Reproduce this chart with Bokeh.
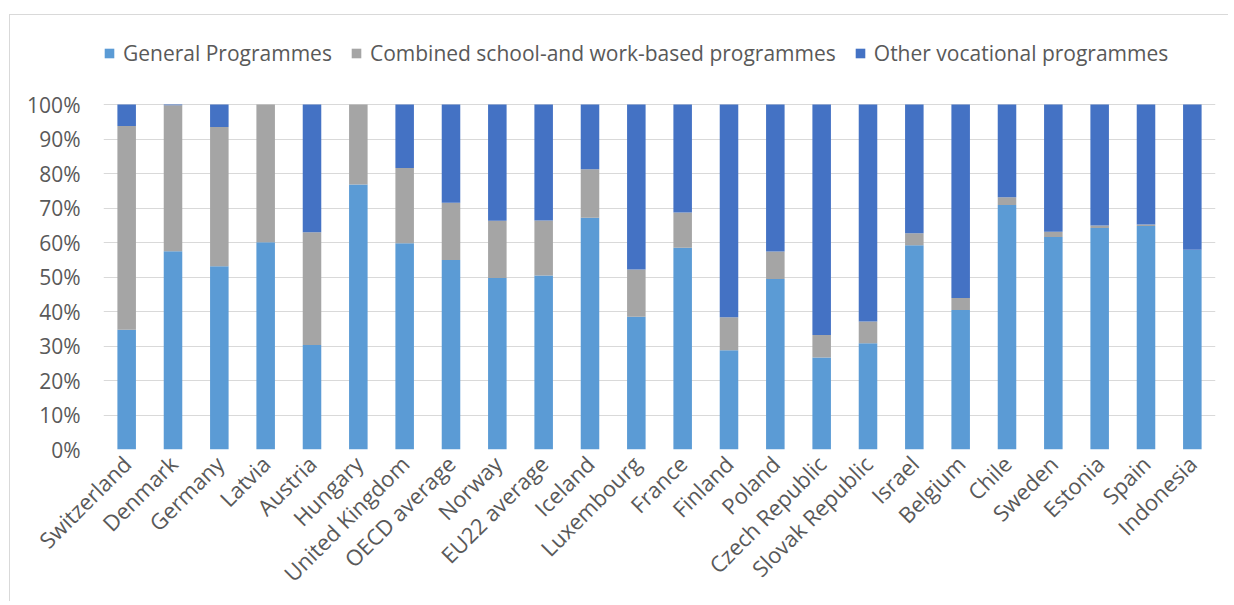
import math
from bokeh.plotting import figure
from bokeh.models import (ColumnDataSource, FactorRange, Range1d, FixedTicker,
                          PrintfTickFormatter, Legend, LegendItem)
from bokeh.embed import file_html
from bokeh.resources import INLINE

countries = ["Switzerland", "Denmark", "Germany", "Latvia", "Austria", "Hungary",
             "United Kingdom", "OECD average", "Norway", "EU22 average", "Iceland",
             "Luxembourg", "France", "Finland", "Poland", "Czech Republic",
             "Slovak Republic", "Israel", "Belgium", "Chile", "Sweden", "Estonia",
             "Spain", "Indonesia"]
general = [34.7, 57.5, 53.1, 60.1, 30.3, 76.8, 59.8, 54.9, 49.7, 50.4, 67.2, 38.5,
           58.5, 28.8, 49.4, 26.7, 30.8, 59.2, 40.4, 70.9, 61.6, 64.2, 64.8, 57.9]
combined = [59.1, 42.3, 40.4, 39.9, 32.7, 23.2, 21.8, 16.6, 16.6, 16.0, 14.0, 13.7,
            10.2, 9.5, 8.0, 6.5, 6.3, 3.5, 3.5, 2.2, 1.5, 0.7, 0.4, 0.0]
other = [6.2, 0.2, 6.5, 0.0, 37.0, 0.0, 18.4, 28.5, 33.7, 33.6, 18.8, 47.8,
         31.3, 61.7, 42.6, 66.8, 62.9, 37.3, 56.1, 26.9, 36.9, 35.1, 34.8, 42.1]
series_names = ["General Programmes", "Combined school-and work-based programmes",
                "Other vocational programmes"]
series_colors = ["#5B9BD5", "#A5A5A5", "#4472C4"]
y_ticks = [0, 10, 20, 30, 40, 50, 60, 70, 80, 90, 100]

FONT = "Open Sans"
TXT = "#595959"

# frame extends above the 100% line to leave room for the legend
FRAME_H = 419          # px
SCALE_H = 345          # px occupied by 0..100 %
y_top = 100.0 * FRAME_H / SCALE_H

source = ColumnDataSource(data=dict(country=countries, general=general,
                                    combined=combined, other=other))

p = figure(x_range=FactorRange(factors=countries, range_padding=0),
           y_range=Range1d(0, y_top),
           frame_width=1112, frame_height=FRAME_H,
           min_border_left=93, min_border_right=13,
           min_border_top=15, min_border_bottom=152,
           output_backend="svg", toolbar_location=None,
           styles={"margin-left": "9px", "margin-top": "14px",
                   "border-left": "1px solid #D9D9D9",
                   "border-top": "1px solid #D9D9D9"})

renderers = p.vbar_stack(["general", "combined", "other"], x="country", width=0.4,
                         color=series_colors, source=source, line_color=None)

legend = Legend(items=[LegendItem(label=n, renderers=[r]) for n, r in zip(series_names, renderers)],
                orientation="horizontal", location=(0, 382),
                glyph_width=12, glyph_height=12, label_standoff=8, spacing=18,
                padding=0, margin=0, label_height=24,
                label_text_font=FONT, label_text_font_size="21px", label_text_color=TXT,
                background_fill_alpha=0, border_line_color=None)
p.add_layout(legend, "center")

p.outline_line_color = None
p.xgrid.grid_line_color = None
p.ygrid.grid_line_color = "#D9D9D9"
p.ygrid.grid_line_width = 1
p.yaxis.ticker = FixedTicker(ticks=y_ticks)
p.yaxis.formatter = PrintfTickFormatter(format="%d%%")

for ax in (p.xaxis[0], p.yaxis[0]):
    ax.axis_line_color = None
    ax.major_tick_line_color = None
    ax.minor_tick_line_color = None
    ax.major_tick_out = 0
    ax.major_tick_in = 0
    ax.minor_tick_out = 0
    ax.minor_tick_in = 0
    ax.major_label_text_font = FONT
    ax.major_label_text_color = TXT

p.yaxis.major_label_text_font_size = "21px"
p.xaxis.major_label_text_font_size = "22px"
p.yaxis.major_label_standoff = 23
p.xaxis.major_label_standoff = 10
p.xaxis.major_label_orientation = math.pi / 4

open("out.html", "w").write(file_html(p, INLINE))
